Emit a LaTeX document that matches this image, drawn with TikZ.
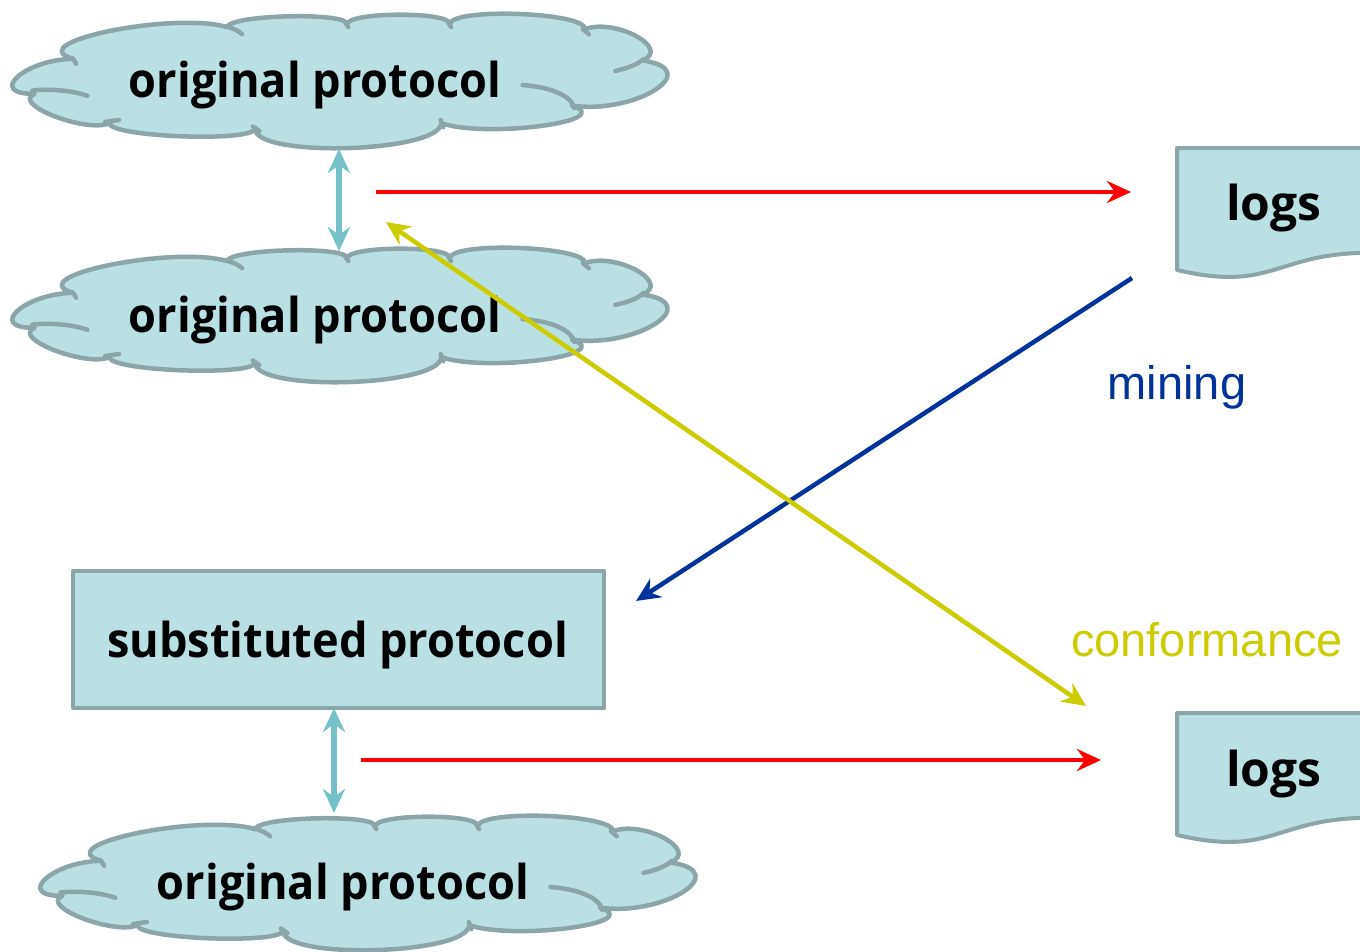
\documentclass[tikz,border=0pt]{standalone}
\usepackage{fontspec}
\setmainfont{Open Sans}
\newfontfamily\arialfont{Liberation Sans}
\usetikzlibrary{arrows.meta,calc}

\definecolor{cloudfill}{RGB}{185,224,227}
\definecolor{cloudline}{RGB}{139,165,168}
\definecolor{linkteal}{RGB}{116,194,200}
\definecolor{flowred}{RGB}{255,0,0}
\definecolor{mineblue}{RGB}{0,51,153}
\definecolor{confyellow}{RGB}{204,204,0}

% one cloud lobe: from #1 through #2 (reached at t=1/2) to #3
\newcommand\lobe[3]{.. controls ($0.3333*#1-0.6667*#3+1.3333*#2$) and ($0.3333*#3-0.6667*#1+1.3333*#2$) .. #3}
% bold label text, slightly condensed
\newcommand\narrow[1]{\scalebox{0.94}[1]{#1}}

\tikzset{
  shapeline/.style={draw=cloudline, fill=cloudfill, line width=4.5pt, line join=round},
  innerline/.style={draw=cloudline, line width=4.5pt, line cap=round},
  boldlabel/.style={font=\fontsize{48}{56}\selectfont\bfseries, text=black, inner sep=0pt, anchor=base},
  plainlabel/.style={font=\arialfont\fontsize{47}{54}\selectfont, inner sep=0pt, anchor=base},
  >={Stealth[length=24pt,width=22pt,inset=8pt]},
  tealarrow/.style={draw=linkteal, line width=5.5pt, <->},
  redarrow/.style={draw=flowred, line width=4.5pt, ->},
  bluearrow/.style={draw=mineblue, line width=4.5pt, ->},
  yellowarrow/.style={draw=confyellow, line width=4.5pt, <->},
}

% cloud outline, drawn in its own local units and shifted into place
\newcommand\cloudat[2]{%
  \begin{scope}[shift={(#1,#2)}, xscale=0.428, yscale=0.327]
    \path[shapeline] (165,175)
      \lobe{(165,175)}{(35,230)}{(75,282)}
      \lobe{(75,282)}{(120,350)}{(250,372)}
      \lobe{(250,372)}{(420,412)}{(590,388)}
      \lobe{(590,388)}{(805,448)}{(1025,372)}
      \lobe{(1025,372)}{(1260,380)}{(1330,318)}
      \lobe{(1330,318)}{(1525,270)}{(1495,180)}
      \lobe{(1495,180)}{(1480,105)}{(1360,85)}
      \lobe{(1360,85)}{(1210,38)}{(1045,68)}
      \lobe{(1045,68)}{(925,40)}{(805,70)}
      \lobe{(805,70)}{(670,45)}{(525,78)}
      \lobe{(525,78)}{(250,90)}{(165,175)}
      -- cycle;
    \draw[innerline] (70,272) .. controls (110,266) and (165,272) .. (198,288);
    \draw[innerline] (1215,255) .. controls (1285,262) and (1330,290) .. (1336,325);
    \draw[innerline] (1432,212) .. controls (1462,203) and (1485,192) .. (1497,176);
    \draw[innerline] (522,76) .. controls (540,82) and (552,90) .. (560,100);
    \draw[innerline] (165,175) -- (172,190);
    \draw[innerline] (240,368) -- (272,362);
    \draw[innerline] (585,382) -- (600,396);
    \draw[innerline] (1024,362) -- (1030,384);
    \draw[innerline] (1356,84) -- (1370,100);
    \draw[innerline] (1042,64) -- (1048,78);
    \draw[innerline] (802,66) -- (808,78);
  \end{scope}}

% document shape with a wavy foot: left, top, width, height
\newcommand\docat[4]{%
  \path[shapeline, line width=4pt]
    (#1,#2) -- ++(#3,0) -- ++(0,0.802*#4)
    .. controls ++(-0.5*#3,0) and ($(#1,#2)+(0.5*#3,1.1075*#4)$) .. ($(#1,#2)+(0,0.934*#4)$)
    -- cycle;}

\begin{document}
\begin{tikzpicture}[x=1pt,y=-1pt]
  \useasboundingbox[fill=white] (0,0) rectangle (1360,951);

  % protocol clouds
  \cloudat{2.5}{1.6}
  \cloudat{2.5}{235.6}
  \cloudat{30.5}{803.6}
  \node[boldlabel] (c1) at (315,97) {\narrow{original protocol}};
  \node[boldlabel] (c2) at (315,332) {\narrow{original protocol}};
  \node[boldlabel] (c3) at (343,899) {\narrow{original protocol}};

  % substituted protocol box
  \node[shapeline, line width=4pt, minimum width=531pt, minimum height=137pt, inner sep=0pt]
    (sub) at (338.5,639.5) {};
  \node[boldlabel] (subtext) at (337.5,657) {\narrow{substituted protocol}};

  % logs documents
  \docat{1177}{148}{194}{130.6}
  \docat{1177}{713}{194}{130.6}
  \node[boldlabel] (log1) at (1274,220) {logs};
  \node[boldlabel] (log2) at (1274,786) {logs};

  % labels of the two relations
  \node[plainlabel, text=mineblue] (mining) at (1177,399) {mining};
  \node[plainlabel, text=confyellow] (conf) at (1207,656) {conformance};

  % connector ends
  \coordinate (t1a) at (339,149);  \coordinate (t1b) at (339,251);
  \coordinate (r1a) at (376,192);  \coordinate (r1b) at (1131,192);
  \coordinate (b1a) at (1132,278); \coordinate (b1b) at (636,601);
  \coordinate (y1a) at (386,222);  \coordinate (y1b) at (1086,706);
  \coordinate (t2a) at (334,708);  \coordinate (t2b) at (334,813);
  \coordinate (r2a) at (361,760);  \coordinate (r2b) at (1101,760);

  \draw[tealarrow] (t1a) -- (t1b);
  \draw[tealarrow] (t2a) -- (t2b);
  \draw[redarrow] (r1a) -- (r1b);
  \draw[redarrow] (r2a) -- (r2b);
  \draw[bluearrow] (b1a) -- (b1b);
  \draw[yellowarrow] (y1a) -- (y1b);
\end{tikzpicture}
\end{document}
